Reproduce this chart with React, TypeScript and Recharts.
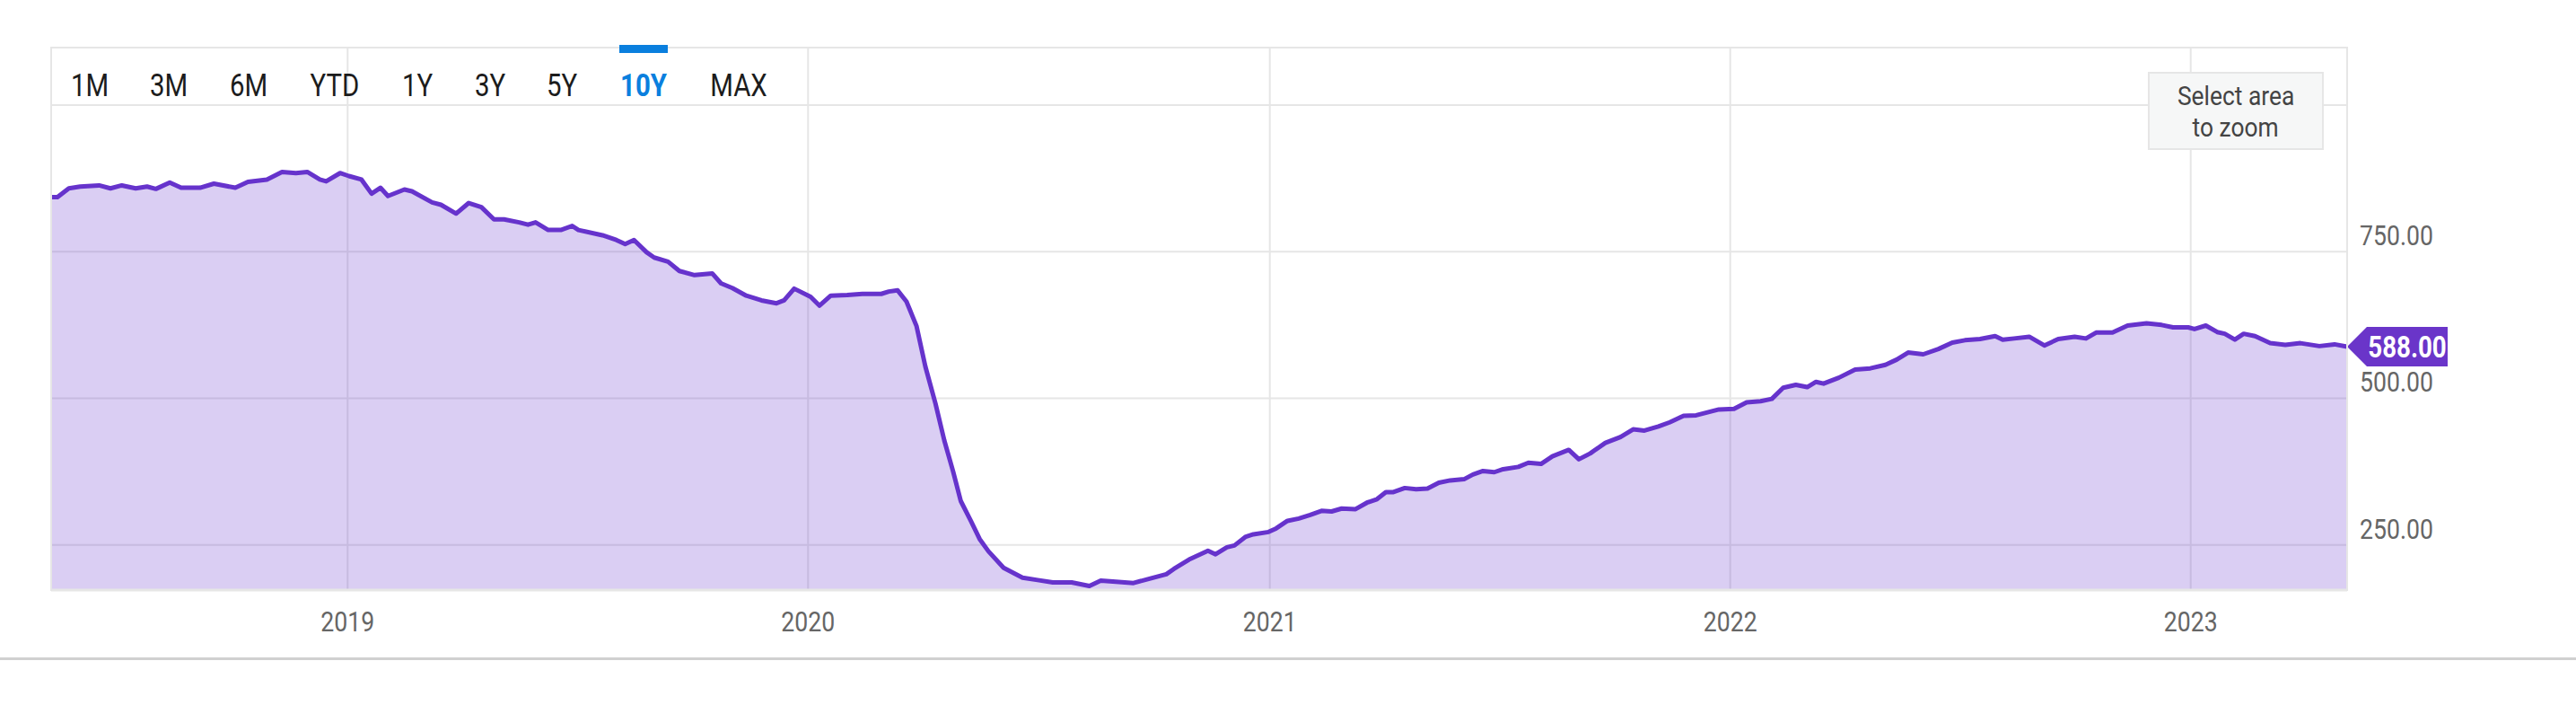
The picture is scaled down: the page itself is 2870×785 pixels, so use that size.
import { AreaChart, Area, XAxis, YAxis, CartesianGrid, ReferenceDot } from "recharts";

// page + plot geometry (px)
const W = 2870;
const H = 785;
const PLOT_LEFT = 57;
const PLOT_TOP = 53;
const PLOT_RIGHT = 2615;
const PLOT_BOTTOM = 657;
const Y_AXIS_W = 120;
const X_AXIS_H = 60;

const LINE = "#6633cc";
const GRID = "#e6e6e6";
const LABEL = "#666666";
const FONT = "Roboto, 'Noto Sans', sans-serif";
const SQUEEZE = 0.86; // fakes the condensed face

// weekly-ish closes
const DATES_2018 = [
  "2018-05-11", "2018-05-16", "2018-05-25", "2018-06-03", "2018-06-18", "2018-06-27",
  "2018-07-06", "2018-07-17", "2018-07-26", "2018-08-02", "2018-08-13", "2018-08-22",
  "2018-09-06", "2018-09-17", "2018-10-04", "2018-10-14", "2018-10-29", "2018-11-10",
  "2018-11-21", "2018-11-30", "2018-12-10", "2018-12-15", "2018-12-26",
];
const PRICES_2018 = [
  843, 843, 858, 861, 863, 858,
  863, 858, 861, 857, 868, 859,
  859, 866, 859, 869, 873, 886,
  884, 886, 873, 870, 884,
];

const DATES_2019 = [
  "2019-01-02", "2019-01-12", "2019-01-20", "2019-01-27", "2019-02-02", "2019-02-15",
  "2019-02-21", "2019-03-09", "2019-03-16", "2019-03-28", "2019-04-07", "2019-04-17",
  "2019-04-27", "2019-05-05", "2019-05-17", "2019-05-24", "2019-05-30", "2019-06-09",
  "2019-06-19", "2019-06-28", "2019-07-03", "2019-07-22", "2019-08-02", "2019-08-09",
  "2019-08-16", "2019-08-26", "2019-09-01", "2019-09-12", "2019-09-21", "2019-10-03",
  "2019-10-17", "2019-10-24", "2019-11-02", "2019-11-13", "2019-11-25", "2019-12-07",
  "2019-12-13", "2019-12-21",
];
const PRICES_2019 = [
  879, 873, 849, 859, 845, 856,
  853, 834, 830, 815, 833, 826,
  805, 805, 800, 796, 800, 787,
  787, 794, 787, 778, 770, 763,
  770, 749, 740, 733, 717, 710,
  713, 696, 688, 675, 667, 662,
  667, 687,
];

const DATES_2020 = [
  "2020-01-03", "2020-01-10", "2020-01-19", "2020-02-01", "2020-02-13", "2020-02-28",
  "2020-03-05", "2020-03-12", "2020-03-19", "2020-03-27", "2020-04-03", "2020-04-11",
  "2020-04-18", "2020-04-25", "2020-05-01", "2020-05-09", "2020-05-16", "2020-05-23",
  "2020-06-04", "2020-06-19", "2020-07-01", "2020-07-13", "2020-07-28", "2020-08-11",
  "2020-08-20", "2020-09-01", "2020-09-15", "2020-09-27", "2020-10-11", "2020-10-17",
  "2020-10-29", "2020-11-13", "2020-11-19", "2020-11-28", "2020-12-04", "2020-12-13",
  "2020-12-19", "2020-12-31",
];
const PRICES_2020 = [
  673, 658, 675, 676, 678, 678,
  682, 684, 665, 623, 554, 491,
  428, 375, 325, 291, 260, 239,
  211, 194, 190, 186, 186, 180,
  189, 187, 185, 192, 200, 209,
  225, 240, 234, 246, 249, 264,
  268, 272,
];

const DATES_2021 = [
  "2021-01-06", "2021-01-15", "2021-01-24", "2021-02-02", "2021-02-11", "2021-02-19",
  "2021-02-27", "2021-03-10", "2021-03-19", "2021-03-27", "2021-04-03", "2021-04-09",
  "2021-04-18", "2021-04-27", "2021-05-06", "2021-05-15", "2021-05-24", "2021-06-04",
  "2021-06-11", "2021-06-19", "2021-06-28", "2021-07-05", "2021-07-17", "2021-07-25",
  "2021-08-04", "2021-08-13", "2021-08-26", "2021-09-03", "2021-09-12", "2021-09-24",
  "2021-10-06", "2021-10-16", "2021-10-25", "2021-11-05", "2021-11-14", "2021-11-25",
  "2021-12-05", "2021-12-14", "2021-12-23",
];
const PRICES_2021 = [
  278, 291, 295, 301, 308, 307,
  312, 311, 322, 328, 340, 340,
  347, 345, 346, 356, 360, 362,
  370, 376, 374, 379, 383, 390,
  388, 401, 412, 396, 406, 424,
  434, 447, 445, 452, 459, 470,
  471, 476, 481,
];

const DATES_2022 = [
  "2022-01-04", "2022-01-14", "2022-01-25", "2022-02-03", "2022-02-12", "2022-02-22",
  "2022-03-03", "2022-03-10", "2022-03-16", "2022-03-28", "2022-04-10", "2022-04-22",
  "2022-05-04", "2022-05-13", "2022-05-22", "2022-06-03", "2022-06-15", "2022-06-26",
  "2022-07-06", "2022-07-18", "2022-07-30", "2022-08-05", "2022-08-14", "2022-08-26",
  "2022-09-07", "2022-09-18", "2022-10-01", "2022-10-10", "2022-10-18", "2022-10-31",
  "2022-11-12", "2022-11-27", "2022-12-09", "2022-12-18", "2022-12-30",
];
const PRICES_2022 = [
  482, 493, 495, 499, 518, 523,
  519, 528, 525, 535, 549, 551,
  557, 566, 578, 575, 584, 595,
  599, 601, 606, 600, 602, 605,
  590, 601, 605, 602, 612, 612,
  624, 628, 625, 621, 621,
];

const DATES_2023 = [
  "2023-01-04", "2023-01-13", "2023-01-22", "2023-01-28", "2023-02-05", "2023-02-12",
  "2023-02-21", "2023-03-05", "2023-03-17", "2023-03-29", "2023-04-13", "2023-04-25",
  "2023-05-05",
];
const PRICES_2023 = [
  618, 624, 613, 610, 600, 610,
  606, 594, 591, 594, 589, 592,
  588,
];

const YEAR_TICKS = ["2019-01-01", "2020-01-01", "2021-01-01", "2022-01-01", "2023-01-01"];
const Y_TICKS = [250, 500, 750, 1000];
const Y_DOMAIN: [number, number] = [173, 1098];

const RANGE_BUTTONS = ["1M", "3M", "6M", "YTD", "1Y", "3Y", "5Y", "10Y", "MAX"];
const ACTIVE_RANGE = "10Y";
const BUTTON_CENTERS = [100, 188, 277, 373, 465, 546, 626, 717, 823];

const ALL_DATES = [...DATES_2018, ...DATES_2019, ...DATES_2020, ...DATES_2021, ...DATES_2022, ...DATES_2023];
const ALL_PRICES = [...PRICES_2018, ...PRICES_2019, ...PRICES_2020, ...PRICES_2021, ...PRICES_2022, ...PRICES_2023];

const data = ALL_DATES.map((d, i) => ({ t: Date.parse(d), price: ALL_PRICES[i] }));
const first = data[0];
const last = data[data.length - 1];

function XTick({ x, y, payload }: any) {
  return (
    <text
      transform={`translate(${x},${y + 44}) scale(${SQUEEZE},1)`}
      textAnchor="middle"
      fill={LABEL}
      fontSize={31}
      fontFamily={FONT}
    >
      {new Date(payload.value).getUTCFullYear()}
    </text>
  );
}

function YTick({ x, y, payload }: any) {
  if (payload.value === 1000) return <g />;
  return (
    <text
      transform={`translate(${x},${y - 7}) scale(${SQUEEZE},1)`}
      textAnchor="start"
      fill={LABEL}
      fontSize={31}
      fontFamily={FONT}
    >
      {payload.value.toFixed(2)}
    </text>
  );
}

function PriceFlag({ cx, cy }: any) {
  const body = 22;
  const right = 112;
  return (
    <g>
      <path
        d={`M${cx},${cy} L${cx + body},${cy - 22} L${cx + right},${cy - 22} L${cx + right},${cy + 22} L${cx + body},${cy + 22} Z`}
        fill="#6a35c9"
      />
      <text
        transform={`translate(${cx + 67},${cy + 12}) scale(0.84,1)`}
        textAnchor="middle"
        fill="#ffffff"
        fontSize={33}
        fontWeight="bold"
        fontFamily={FONT}
      >
        {last.price.toFixed(2)}
      </text>
    </g>
  );
}

export default function App() {
  return (
    <div style={{ position: "absolute", left: 0, top: 0, width: W, height: H, background: "#fff", overflow: "hidden" }}>
      <AreaChart
        width={W}
        height={H}
        data={data}
        margin={{ top: PLOT_TOP, left: PLOT_LEFT, right: W - PLOT_RIGHT - Y_AXIS_W, bottom: H - PLOT_BOTTOM - X_AXIS_H }}
      >
        <CartesianGrid stroke={GRID} strokeWidth={2} />
        <XAxis
          dataKey="t"
          type="number"
          domain={[first.t, last.t]}
          ticks={YEAR_TICKS.map((d) => Date.parse(d))}
          interval={0}
          tick={XTick}
          tickLine={false}
          tickSize={0}
          axisLine={{ stroke: GRID, strokeWidth: 3 }}
          height={X_AXIS_H}
        />
        <YAxis
          orientation="right"
          type="number"
          domain={Y_DOMAIN}
          ticks={Y_TICKS}
          interval={0}
          allowDataOverflow
          tick={YTick}
          tickLine={false}
          tickSize={0}
          tickMargin={14}
          axisLine={false}
          width={Y_AXIS_W}
        />
        <Area
          type="linear"
          dataKey="price"
          stroke={LINE}
          strokeWidth={5}
          strokeLinejoin="round"
          fill={LINE}
          fillOpacity={0.24}
          dot={false}
          activeDot={false}
          isAnimationActive={false}
        />
        <ReferenceDot x={last.t} y={last.price} ifOverflow="visible" shape={PriceFlag} />
      </AreaChart>

      {/* plot frame */}
      <div
        style={{
          position: "absolute",
          left: PLOT_LEFT - 1,
          top: PLOT_TOP - 1,
          width: PLOT_RIGHT - PLOT_LEFT + 2,
          height: PLOT_BOTTOM - PLOT_TOP + 2,
          border: `2px solid ${GRID}`,
          boxSizing: "border-box",
          pointerEvents: "none",
        }}
      />

      {/* range selector */}
      <div style={{ position: "absolute", left: 690, top: 50, width: 54, height: 9, background: "#0a7fde" }} />
      {RANGE_BUTTONS.map((b, i) => (
        <div
          key={b}
          style={{
            position: "absolute",
            left: BUTTON_CENTERS[i] - 60,
            top: 76,
            width: 120,
            height: 40,
            lineHeight: "40px",
            textAlign: "center",
            fontFamily: FONT,
            fontSize: 35,
            fontWeight: b === ACTIVE_RANGE ? 700 : 400,
            color: b === ACTIVE_RANGE ? "#0a7fde" : "#1c1c1c",
            transform: "scaleX(0.84)",
          }}
        >
          {b}
        </div>
      ))}

      {/* zoom hint */}
      <div
        style={{
          position: "absolute",
          left: 2393,
          top: 80,
          width: 196,
          height: 87,
          boxSizing: "border-box",
          background: "#f6f7f7",
          border: `2px solid ${GRID}`,
          display: "flex",
          flexDirection: "column",
          alignItems: "center",
          justifyContent: "center",
          fontFamily: FONT,
          fontSize: 30,
          lineHeight: "35px",
          color: "#444",
        }}
      >
        <div style={{ transform: "scaleX(0.88)", whiteSpace: "nowrap" }}>Select area</div>
        <div style={{ transform: "scaleX(0.88)", whiteSpace: "nowrap" }}>to zoom</div>
      </div>

      {/* page rule under the chart */}
      <div style={{ position: "absolute", left: 0, top: 732, width: W, height: 3, background: "#d0d0d0" }} />
    </div>
  );
}
